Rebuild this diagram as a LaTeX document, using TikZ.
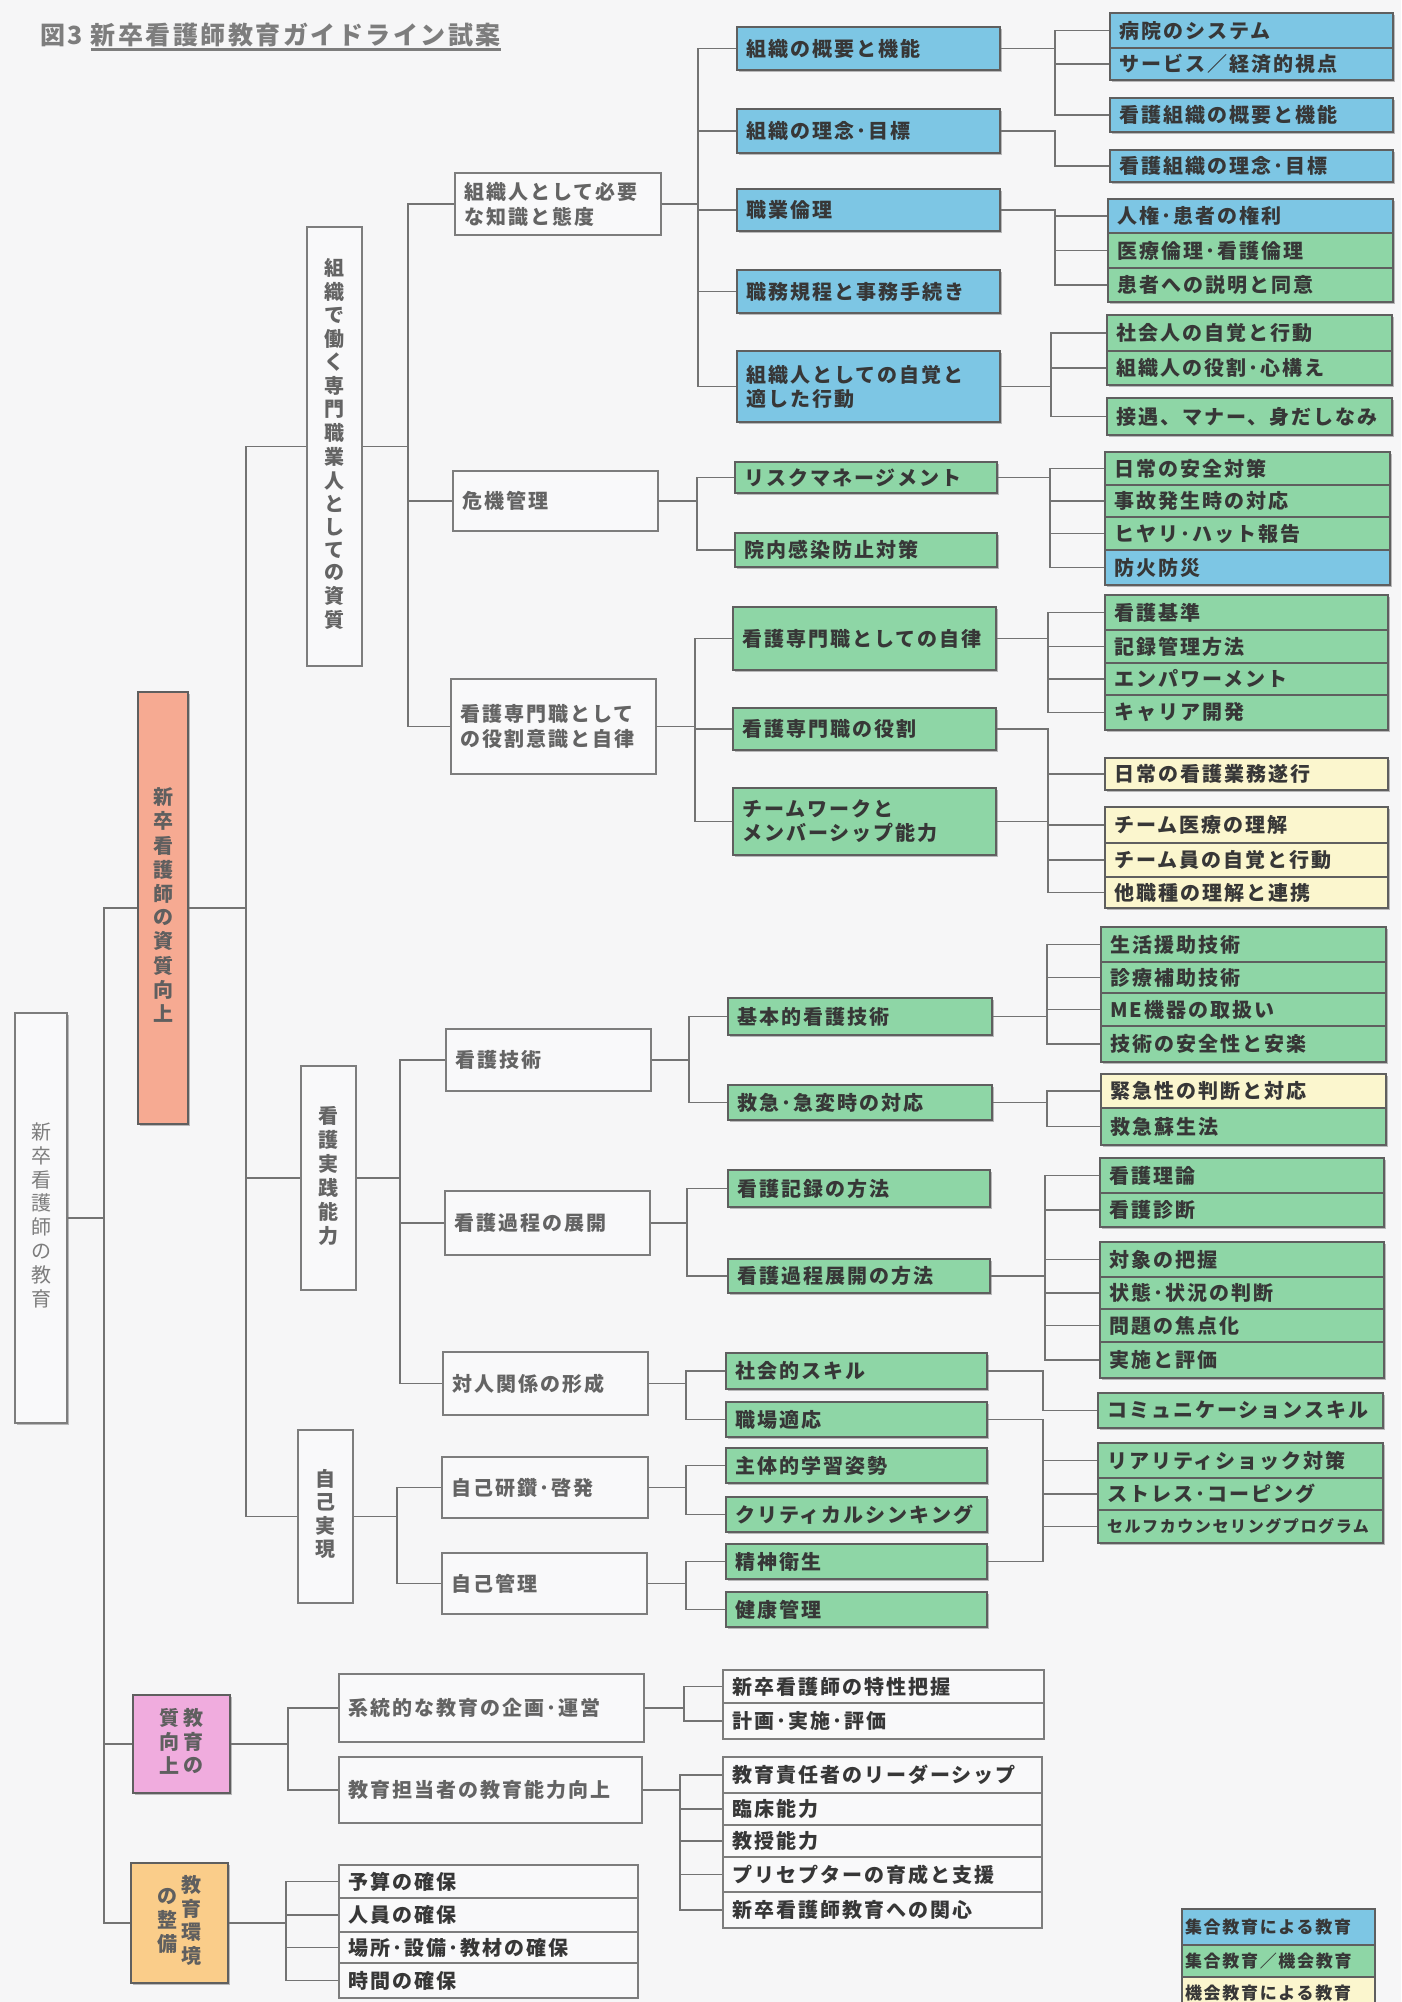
\documentclass[tikz,border=0pt]{standalone}
\usepackage{fontspec}
\setmainfont{Noto Sans CJK JP}
\newfontfamily\jp{Noto Sans CJK JP}[LetterSpace=10]
\newfontfamily\jpv{Noto Sans CJK JP}
\usetikzlibrary{shadows}
\definecolor{bg}{RGB}{246,246,247}
\definecolor{cblue}{RGB}{125,198,228}
\definecolor{cgreen}{RGB}{142,214,166}
\definecolor{cyel}{RGB}{251,246,206}
\definecolor{csalmon}{RGB}{246,170,146}
\definecolor{cpink}{RGB}{240,172,222}
\definecolor{corange}{RGB}{250,205,138}
\definecolor{wfill}{RGB}{249,249,250}
\definecolor{linec}{RGB}{115,115,115}
\definecolor{bordc}{RGB}{95,95,95}
\definecolor{wbord}{RGB}{125,125,125}
\definecolor{dtxt}{RGB}{55,55,55}
\definecolor{gtxt}{RGB}{100,100,100}
\definecolor{ltxt}{RGB}{125,125,125}
\newcommand\vt[1]{\begin{tabular}[c]{@{}c@{}}#1\end{tabular}}
\newcommand\ulx[1]{\setbox0=\hbox{#1}\rlap{\rule[-6pt]{\wd0}{2.5pt}}\box0}
\newcommand\hb[7]{%
  \pgfmathsetmacro\bxT{#4-#2-18}%
  \pgfmathsetmacro\bxW{#4-#2}%
  \pgfmathsetmacro\bxH{#5-#3}%
  \node[#6, minimum width=\bxW pt, minimum height=\bxH pt, text width=\bxT pt] (#1) at ({(#2+#4)/2},{(#3+#5)/2}) {#7};}
\newcommand\vb[7]{%
  \pgfmathsetmacro\bxW{#4-#2}%
  \pgfmathsetmacro\bxH{#5-#3}%
  \node[#6, minimum width=\bxW pt, minimum height=\bxH pt] (#1) at ({(#2+#4)/2},{(#3+#5)/2}) {#7};}
\newcommand\cn[3]{\foreach \c in {#3}{\draw[conn] (#1.east) -- (#1.east -| #2) |- (\c.west);}}
\tikzset{
  base/.style={line width=1.8pt, inner xsep=9pt, inner ysep=0pt, align=left},
  shd/.style={drop shadow={shadow xshift=2pt, shadow yshift=-2pt, fill=black, opacity=0.25}},
  cb/.style={base, shd, draw=bordc, text=dtxt, font=\jp\bfseries\fontsize{20}{24}\selectfont},
  bb/.style={cb, fill=cblue},
  gb/.style={cb, fill=cgreen},
  yb/.style={cb, fill=cyel},
  wb/.style={base, draw=wbord, fill=wfill, text=gtxt, font=\jp\bfseries\fontsize{20}{25}\selectfont},
  wd/.style={wb, text=dtxt},
  vbx/.style={line width=1.8pt, draw=wbord, fill=wfill, inner sep=0pt, text=gtxt, font=\jpv\bfseries\fontsize{20}{22.8}\selectfont},
  vroot/.style={vbx, shd, text=ltxt, font=\jpv\fontsize{20}{23.6}\selectfont},
  vcol/.style={vbx, shd, draw=bordc, text=dtxt!80, font=\jpv\bfseries\fontsize{20}{23.4}\selectfont},
  lg/.style={base, draw=bordc, inner xsep=3pt, text=dtxt, font=\jp\bfseries\fontsize{17}{20}\selectfont},
  conn/.style={draw=linec, line width=1.8pt},
  ttl/.style={text=ltxt, inner sep=0pt, anchor=west, font=\jp\bfseries\fontsize{25}{29}\selectfont}
}
\begin{document}
\begin{tikzpicture}[x=1pt,y=-1pt]
\fill[bg] (0,0) rectangle (1401,2002);
\useasboundingbox (0,0) rectangle (1401,2002);
\clip (0,0) rectangle (1401,2002);

% bracket columns
\coordinate (T0) at (104,0);
\coordinate (T1) at (246,0);
\coordinate (T2) at (408,0);
\coordinate (T3) at (400,0);
\coordinate (T4) at (397,0);
\coordinate (T5) at (288,0);
\coordinate (T6) at (286,0);
\coordinate (B1) at (698,0);
\coordinate (B2) at (697,0);
\coordinate (B3) at (695,0);
\coordinate (B4) at (689,0);
\coordinate (B5) at (687,0);
\coordinate (B6) at (686,0);
\coordinate (B7) at (684,0);
\coordinate (B8) at (680,0);
\coordinate (G1) at (1055,0);
\coordinate (G2) at (1051,0);
\coordinate (G3) at (1050,0);
\coordinate (G4) at (1048,0);
\coordinate (G5) at (1047,0);
\coordinate (G6) at (1045,0);
\coordinate (G7) at (1043,0);

% title
\node[ttl] (title) at (40,37) {図3\hspace{8pt}\ulx{新卒看護師教育ガイドライン試案}};

% vertical boxes
\vb{root}{15}{1013}{67}{1423}{vroot}{\vt{新\\卒\\看\\護\\師\\の\\教\\育}}
\vb{q1}{138}{692}{188}{1124}{vcol,fill=csalmon}{\vt{新\\卒\\看\\護\\師\\の\\資\\質\\向\\上}}
\vb{q2}{133}{1695}{230}{1793}{vcol,fill=cpink}{\vt{質\\向\\上}\hspace{4pt}\vt{教\\育\\の}}
\vb{q3}{131}{1863}{228}{1983}{vcol,fill=corange}{\vt{の\\整\\備}\hspace{4pt}\vt{教\\育\\環\\境}}
\vb{c1}{307}{227}{362}{666}{vbx}{\vt{組\\織\\で\\働\\く\\専\\門\\職\\業\\人\\と\\し\\て\\の\\資\\質}}
\vb{c2}{301}{1066}{356}{1290}{vbx}{\vt{看\\護\\実\\践\\能\\力}}
\vb{c3}{298}{1430}{353}{1603}{vbx}{\vt{自\\己\\実\\現}}

% level 3
\hb{d1}{455}{173}{661}{235}{wb}{組織人として必要\\な知識と態度}
\hb{d2}{453}{471}{658}{531}{wb}{危機管理}
\hb{d3}{451}{679}{656}{774}{wb}{看護専門職として\\の役割意識と自律}
\hb{d4}{446}{1029}{651}{1091}{wb}{看護技術}
\hb{d5}{445}{1191}{650}{1255}{wb}{看護過程の展開}
\hb{d6}{443}{1352}{648}{1415}{wb}{対人関係の形成}
\hb{d7}{442}{1457}{648}{1518}{wb}{自己研鑽･啓発}
\hb{d8}{442}{1553}{647}{1614}{wb}{自己管理}
\hb{d9}{339}{1674}{644}{1742}{wb}{系統的な教育の企画･運営}
\hb{d10}{339}{1757}{642}{1823}{wb}{教育担当者の教育能力向上}

% level 4
\hb{e1}{737}{27}{1000}{70}{bb}{組織の概要と機能}
\hb{e2}{737}{109}{1000}{153}{bb}{組織の理念･目標}
\hb{e3}{737}{189}{1000}{231}{bb}{職業倫理}
\hb{e4}{737}{270}{1000}{313}{bb}{職務規程と事務手続き}
\hb{e5}{737}{351}{1000}{422}{bb}{組織人としての自覚と\\適した行動}
\hb{e6}{735}{462}{997}{493}{gb}{リスクマネージメント}
\hb{e7}{735}{533}{997}{567}{gb}{院内感染防止対策}
\hb{e8}{733}{607}{996}{670}{gb}{看護専門職としての自律}
\hb{e9}{733}{708}{996}{750}{gb}{看護専門職の役割}
\hb{e10}{733}{788}{996}{855}{gb}{チームワークと\\メンバーシップ能力}
\hb{e11}{728}{998}{992}{1035}{gb}{基本的看護技術}
\hb{e12}{728}{1085}{992}{1120}{gb}{救急･急変時の対応}
\hb{e13}{728}{1170}{990}{1207}{gb}{看護記録の方法}
\hb{e14}{728}{1259}{990}{1293}{gb}{看護過程展開の方法}
\hb{e15}{726}{1353}{987}{1389}{gb}{社会的スキル}
\hb{e16}{726}{1402}{987}{1437}{gb}{職場適応}
\hb{e17}{726}{1448}{987}{1483}{gb}{主体的学習姿勢}
\hb{e18}{726}{1497}{987}{1532}{gb}{クリティカルシンキング}
\hb{e19}{726}{1544}{987}{1579}{gb}{精神衛生}
\hb{e20}{726}{1592}{987}{1627}{gb}{健康管理}

% level 5
\hb{g1}{1110}{13}{1393}{48}{bb}{病院のシステム}
\hb{g2}{1110}{48}{1393}{80}{bb}{サービス／経済的視点}
\hb{g3}{1110}{98}{1393}{132}{bb}{看護組織の概要と機能}
\hb{g4}{1110}{150}{1393}{182}{bb}{看護組織の理念･目標}
\hb{g5}{1108}{199}{1393}{233}{bb}{人権･患者の権利}
\hb{g6}{1108}{233}{1393}{268}{gb}{医療倫理･看護倫理}
\hb{g7}{1108}{268}{1393}{302}{gb}{患者への説明と同意}
\hb{g8}{1107}{315}{1392}{351}{gb}{社会人の自覚と行動}
\hb{g9}{1107}{351}{1392}{385}{gb}{組織人の役割･心構え}
\hb{g10}{1107}{398}{1392}{435}{gb}{接遇、マナー、身だしなみ}
\hb{g11}{1105}{452}{1390}{485}{gb}{日常の安全対策}
\hb{g12}{1105}{485}{1390}{517}{gb}{事故発生時の対応}
\hb{g13}{1105}{517}{1390}{550}{gb}{ヒヤリ･ハット報告}
\hb{g14}{1105}{550}{1390}{585}{bb}{防火防災}
\hb{g15}{1105}{595}{1388}{630}{gb}{看護基準}
\hb{g16}{1105}{630}{1388}{663}{gb}{記録管理方法}
\hb{g17}{1105}{663}{1388}{695}{gb}{エンパワーメント}
\hb{g18}{1105}{695}{1388}{730}{gb}{キャリア開発}
\hb{g19}{1105}{758}{1388}{790}{yb}{日常の看護業務遂行}
\hb{g20}{1105}{807}{1388}{843}{yb}{チーム医療の理解}
\hb{g21}{1105}{843}{1388}{877}{yb}{チーム員の自覚と行動}
\hb{g22}{1105}{877}{1388}{908}{yb}{他職種の理解と連携}
\hb{g23}{1101}{927}{1386}{962}{gb}{生活援助技術}
\hb{g24}{1101}{962}{1386}{993}{gb}{診療補助技術}
\hb{g25}{1101}{993}{1386}{1026}{gb}{ME機器の取扱い}
\hb{g26}{1101}{1026}{1386}{1062}{gb}{技術の安全性と安楽}
\hb{g27}{1101}{1074}{1386}{1108}{yb}{緊急性の判断と対応}
\hb{g28}{1101}{1108}{1386}{1145}{gb}{救急蘇生法}
\hb{g29}{1100}{1158}{1384}{1193}{gb}{看護理論}
\hb{g30}{1100}{1193}{1384}{1227}{gb}{看護診断}
\hb{g31}{1100}{1242}{1384}{1277}{gb}{対象の把握}
\hb{g32}{1100}{1277}{1384}{1309}{gb}{状態･状況の判断}
\hb{g33}{1100}{1309}{1384}{1342}{gb}{問題の焦点化}
\hb{g34}{1100}{1342}{1384}{1378}{gb}{実施と評価}
\hb{g35}{1098}{1393}{1383}{1428}{gb}{コミュニケーションスキル}
\hb{g36}{1098}{1443}{1383}{1478}{gb}{リアリティショック対策}
\hb{g37}{1098}{1478}{1383}{1510}{gb}{ストレス･コーピング}
\hb{g38}{1098}{1510}{1383}{1543}{gb}{\fontsize{16}{18}\selectfont セルフカウンセリングプログラム}

% bottom white rows
\hb{f1}{723}{1670}{1044}{1703}{wd}{新卒看護師の特性把握}
\hb{f2}{723}{1703}{1044}{1739}{wd}{計画･実施･評価}
\hb{h1}{723}{1757}{1042}{1793}{wd}{教育責任者のリーダーシップ}
\hb{h2}{723}{1793}{1042}{1825}{wd}{臨床能力}
\hb{h3}{723}{1825}{1042}{1857}{wd}{教授能力}
\hb{h4}{723}{1857}{1042}{1892}{wd}{プリセプターの育成と支援}
\hb{h5}{723}{1892}{1042}{1928}{wd}{新卒看護師教育への関心}
\hb{r1}{339}{1865}{638}{1898}{wd}{予算の確保}
\hb{r2}{339}{1898}{638}{1932}{wd}{人員の確保}
\hb{r3}{339}{1932}{638}{1963}{wd}{場所･設備･教材の確保}
\hb{r4}{339}{1963}{638}{1998}{wd}{時間の確保}

% legend
\node[lg, fill=cblue, minimum width=193pt, minimum height=36pt, text width=187pt] (l1) at (1278.5,1927) {集合教育による教育};
\node[lg, fill=cgreen, minimum width=193pt, minimum height=32pt, text width=187pt] (l2) at (1278.5,1961) {集合教育／機会教育};
\node[lg, fill=cyel, minimum width=193pt, minimum height=33pt, text width=187pt] (l3) at (1278.5,1993.5) {機会教育による教育};

% connectors
\cn{root}{T0}{q1,q2,q3}
\cn{q1}{T1}{c1,c2,c3}
\cn{c1}{T2}{d1,d2,d3}
\cn{c2}{T3}{d4,d5,d6}
\cn{c3}{T4}{d7,d8}
\cn{q2}{T5}{d9,d10}
\cn{q3}{T6}{r1,r2,r3,r4}
\cn{d1}{B1}{e1,e2,e3,e4,e5}
\cn{d2}{B2}{e6,e7}
\cn{d3}{B3}{e8,e9,e10}
\cn{d4}{B4}{e11,e12}
\cn{d5}{B5}{e13,e14}
\cn{d6}{B6}{e15,e16}
\cn{d7}{B6}{e17,e18}
\cn{d8}{B6}{e19,e20}
\cn{d9}{B7}{f1,f2}
\cn{d10}{B8}{h1,h2,h3,h4,h5}
\cn{e1}{G1}{g1,g2,g3}
\cn{e2}{G1}{g4}
\cn{e3}{G1}{g5,g6,g7}
\cn{e5}{G2}{g8,g9,g10}
\cn{e6}{G3}{g11,g12,g13,g14}
\cn{e8}{G4}{g15,g16,g17,g18}
\cn{e9}{G4}{g19,g20,g21,g22}
\cn{e10}{G4}{g20}
\cn{e11}{G5}{g23,g24,g25,g26}
\cn{e12}{G5}{g27,g28}
\cn{e14}{G6}{g29,g30,g31,g32,g33,g34}
\cn{e15}{G7}{g35}
\cn{e16}{G7}{g36,g37,g38}
\cn{e19}{G7}{g38}
\end{tikzpicture}
\end{document}
